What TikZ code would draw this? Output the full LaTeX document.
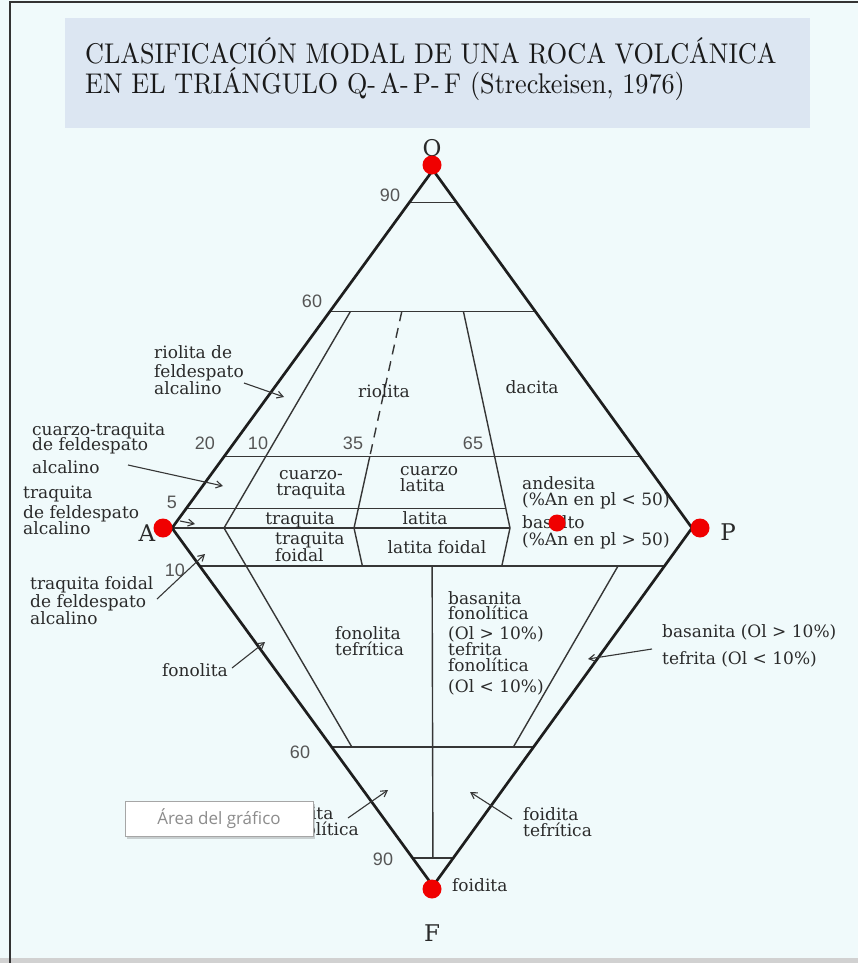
\documentclass[tikz,border=0pt]{standalone}
\usepackage{fontspec}
\setmainfont{DejaVu Serif}
\newfontfamily\numfont{Liberation Sans}
\newfontfamily\tipfont{Open Sans}
\usetikzlibrary{calc,arrows.meta,shadows}

\definecolor{bgc}{HTML}{F0FAFB}
\definecolor{titlebg}{HTML}{DCE6F2}
\definecolor{edgec}{HTML}{1E1E1E}
\definecolor{divc}{HTML}{363636}
\definecolor{txtc}{HTML}{2A2A2A}
\definecolor{numc}{HTML}{555555}
\definecolor{dotc}{HTML}{F00000}
\definecolor{framec}{HTML}{333333}

% title lettering: the 10pt design size of Latin Modern, enlarged
\newcommand{\titletext}[1]{\scalebox{2.62}[2.85]{\fontfamily{lmr}\fontsize{10}{12}\selectfont #1}}

\begin{document}
\begin{tikzpicture}[x=1pt,y=-1pt,
  edge/.style={draw=edgec,line width=2.7pt,line join=round},
  div/.style={draw=divc,line width=1.4pt},
  dashdiv/.style={div,dash pattern=on 10pt off 7pt},
  lbl/.style={font=\fontsize{17}{16}\selectfont,text=txtc,inner sep=0pt,align=left},
  num/.style={font=\numfont\fontsize{18}{18}\selectfont,text=numc,inner sep=0pt},
  vtx/.style={font=\fontsize{23}{23}\selectfont,text=txtc,inner sep=0pt},
  ptr/.style={draw=divc,line width=1.1pt,-{Straight Barb[length=6pt,width=7pt]}},
  reddot/.style={circle,fill=dotc,inner sep=0pt,minimum size=19pt},
  ttl/.style={text=black!90,inner sep=0pt,anchor=base west}
]
\useasboundingbox (0,0) rectangle (858,963);
% page background and frame
\fill[bgc] (0,0) rectangle (858,963);
\fill[black!18] (0,958) rectangle (858,963);
\draw[framec,line width=2.5pt] (10,963) -- (10,2) -- (858,2);

% title panel
\node[fill=titlebg,minimum width=745pt,minimum height=110pt,inner sep=0pt] (titlebox) at (437.5,73) {};
\node[ttl] (title1) at (85,64) {\titletext{CLASIFICACIÓN MODAL DE UNA ROCA VOLCÁNICA}};
\node[ttl] (title2) at (85,94) {\titletext{EN EL TRIÁNGULO Q-\,A-\,P-\,F (Streckeisen, 1976)}};

% corners of the QAPF double triangle
\coordinate (Q) at (433,170);
\coordinate (A) at (172,528);
\coordinate (P) at (692,528);
\coordinate (F) at (433,886);
% points on the A-P join
\coordinate (a10) at ($(A)!0.10!(P)$);
\coordinate (a35) at ($(A)!0.35!(P)$);
\coordinate (a50) at ($(A)!0.50!(P)$);
\coordinate (a65) at ($(A)!0.65!(P)$);
\coordinate (a90) at ($(A)!0.90!(P)$);

% horizontal divisions, upper triangle
\draw[div] ($(A)!0.91!(Q)$) -- ($(P)!0.91!(Q)$);
\draw[div] ($(A)!0.605!(Q)$) -- ($(P)!0.605!(Q)$);
\draw[div] ($(A)!0.2!(Q)$) -- ($(P)!0.2!(Q)$);
\draw[div] ($(A)!0.055!(Q)$) -- ($(a65)!0.055!(Q)$);
\draw[div] (A) -- (a65);
% horizontal divisions, lower triangle
\draw[div] ($(A)!0.106!(F)$) -- ($(P)!0.106!(F)$);
\draw[div] ($(A)!0.612!(F)$) -- ($(P)!0.612!(F)$);
\draw[div] ($(A)!0.922!(F)$) -- ($(P)!0.922!(F)$);

% radial divisions
\draw[div] ($(a10)!0.605!(Q)$) -- (a10) -- ($(a10)!0.612!(F)$);
\draw[dashdiv] ($(a35)!0.605!(Q)$) -- ($(a35)!0.2!(Q)$);
\draw[div] ($(a35)!0.2!(Q)$) -- (a35) -- ($(a35)!0.106!(F)$);
\draw[div] ($(a65)!0.605!(Q)$) -- (a65) -- ($(a65)!0.106!(F)$);
\draw[div] ($(a50)!0.106!(F)$) -- ($(a50)!0.922!(F)$);
\draw[div] ($(a90)!0.106!(F)$) -- ($(a90)!0.612!(F)$);

% outline
\draw[edge] (Q) -- (A) -- (F) -- (P) -- cycle;

% scale numbers
\node[num] (n90u) at (390,195) {90};
\node[num] (n60u) at (312,301) {60};
\node[num] (n20)  at (205,443) {20};
\node[num] (n10u) at (258,443) {10};
\node[num] (n35)  at (353,443) {35};
\node[num] (n65)  at (473,443) {65};
\node[num] (n5)   at (172,502) {5};
\node[num] (n10l) at (175,570) {10};
\node[num] (n60l) at (300,752) {60};
\node[num] (n90l) at (383,859) {90};

% field names inside the diagram
\node[lbl,anchor=base] (riolita) at (384,397) {riolita};
\node[lbl,anchor=base] (dacita) at (532,393) {dacita};
\node[lbl,align=center] (cztraq) at (311,485) {cuarzo-\\traquita};
\node[lbl,anchor=west] (czlat) at (400,479) {cuarzo\\latita};
\node[lbl,anchor=base] (traq) at (300,524) {traquita};
\node[lbl,anchor=base] (latita) at (425,524) {latita};
\node[lbl,anchor=west] (traqf) at (275,547) {traquita\\foidal};
\node[lbl,anchor=base] (latf) at (437,553) {latita foidal};
\node[lbl,anchor=west] (andes) at (522,513) {andesita\\(\%An en pl < 50)\\[5pt]basalto\\[1pt](\%An en pl > 50)};
\node[lbl,anchor=west] (fontef) at (335,641) {fonolita\\tefrítica};
\node[lbl,anchor=west] (basfon) at (448,643) {basanita\\[-1pt]fonolítica\\[4pt](Ol > 10\%)\\tefrita\\fonolítica\\[5pt](Ol < 10\%)};
\node[lbl,anchor=base west] (foidF) at (452,891) {foidita};

% field names outside, with pointers
\node[lbl,anchor=west] (rfa) at (154,370) {riolita de\\[3pt]feldespato\\alcalino};
\node[lbl,anchor=west] (ctfa) at (32,448) {cuarzo-traquita\\[-2pt]de feldespato\\[5pt]alcalino};
\node[lbl,anchor=west] (tfa) at (23,510) {traquita\\[3pt]de feldespato\\[-2pt]alcalino};
\node[lbl,anchor=west] (tffa) at (30,601) {traquita foidal\\de feldespato\\alcalino};
\node[lbl,anchor=west] (fonol) at (162,670) {fonolita};
\node[lbl,anchor=west] (foifon) at (278,821) {foidita\\fonolítica};
\node[lbl,anchor=west] (foitef) at (523,822) {foidita\\tefrítica};
\node[lbl,anchor=west,font=\fontsize{17}{27}\selectfont] (bastef) at (662,646) {basanita (Ol > 10\%)\\tefrita (Ol < 10\%)};

\coordinate (t1) at (244,383);  \coordinate (h1) at (284,397);
\coordinate (t2) at (128,465);  \coordinate (h2) at (223,486);
\coordinate (t3) at (180,521);  \coordinate (h3) at (195,524);
\coordinate (t4) at (157,599);  \coordinate (h4) at (205,554);
\coordinate (t5) at (232,668);  \coordinate (h5) at (265,642);
\coordinate (t6) at (348,818);  \coordinate (h6) at (388,790);
\coordinate (t7) at (512,819);  \coordinate (h7) at (470,792);
\coordinate (t8) at (652,649);  \coordinate (h8) at (588,659);
\draw[ptr] (t1) -- (h1);
\draw[ptr] (t2) -- (h2);
\draw[ptr] (t3) -- (h3);
\draw[ptr] (t4) -- (h4);
\draw[ptr] (t5) -- (h5);
\draw[ptr] (t6) -- (h6);
\draw[ptr] (t7) -- (h7);
\draw[ptr] (t8) -- (h8);

% corner letters and markers
\node[vtx] (lQ) at (432,150) {Q};
\node[vtx] (lA) at (147,533) {A};
\node[vtx] (lP) at (728,532) {P};
\node[vtx] (lF) at (432,933) {F};
\node[reddot] (dQ) at (432,165) {};
\node[reddot] (dA) at (163,528) {};
\node[reddot] (dP) at (700,528) {};
\node[reddot] (dF) at (432,889) {};
\node[reddot,minimum size=17pt] (dB) at (557,523) {};

% chart-area tooltip
\node[draw=black!35,fill=white,line width=0.8pt,minimum width=188pt,minimum height=35pt,inner sep=0pt,
      drop shadow={shadow xshift=2pt,shadow yshift=-3pt,opacity=0.35},
      font=\tipfont\fontsize{17}{17}\selectfont,text=black!45] (tip) at (219,818.5) {Área del gráfico};
\end{tikzpicture}
\end{document}
